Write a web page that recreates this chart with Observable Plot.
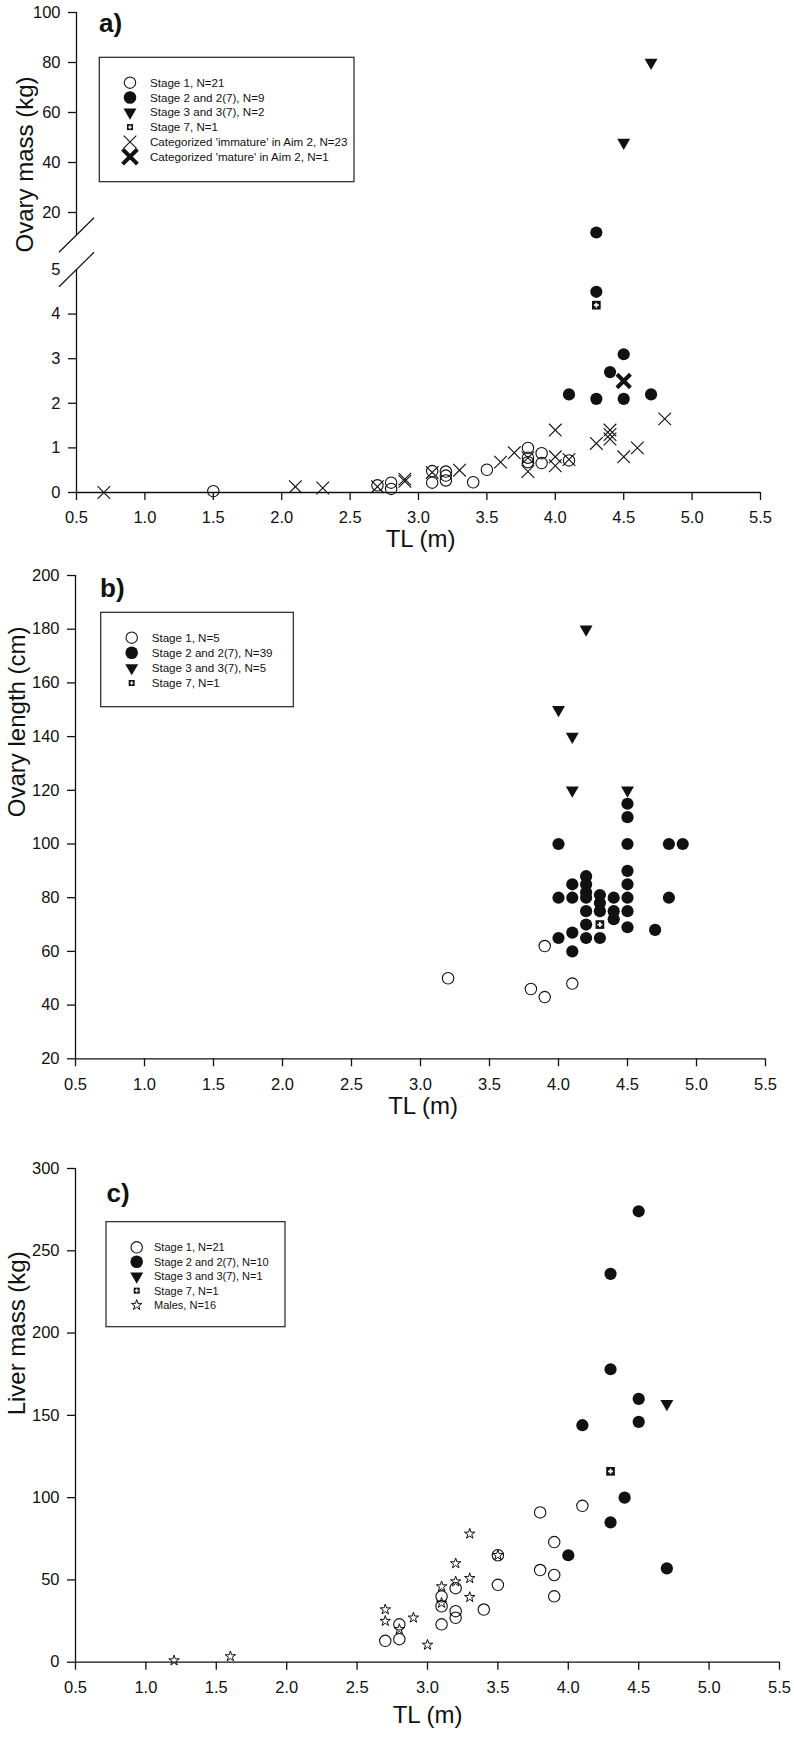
<!DOCTYPE html>
<html>
<head>
<meta charset="utf-8">
<script src="https://cdn.jsdelivr.net/npm/d3@7"></script>
<script src="https://cdn.jsdelivr.net/npm/@observablehq/plot@0.6"></script>
<style>
  html, body { margin: 0; padding: 0; background: #fff; }
  #wrap { position: relative; width: 794px; height: 1740px; overflow: hidden; background: #fff; }
  #wrap > svg { display: block; }
  #overlay { position: absolute; left: 0; top: 0; pointer-events: none; }
</style>
</head>
<body>
<div id="wrap"></div>
<script>
// ---------------- DATA ----------------
// shared x ticks (TL, m)
const xTicks = [0.5, 1.0, 1.5, 2.0, 2.5, 3.0, 3.5, 4.0, 4.5, 5.0, 5.5];

// Panel a) Ovary mass (kg) vs TL (m)
const a_stage1_tl   = [1.5, 2.7, 2.8, 2.8, 3.1, 3.1, 3.2, 3.2, 3.2, 3.4, 3.5, 3.8, 3.8, 3.8, 3.9, 3.9, 4.1];
const a_stage1_mass = [0.03, 0.16, 0.22, 0.08, 0.48, 0.22, 0.47, 0.38, 0.27, 0.23, 0.51, 1.0, 0.78, 0.68, 0.88, 0.66, 0.72];
const a_stage2_tl   = [4.3, 4.3, 4.5, 4.4, 4.1, 4.3, 4.5, 4.7];
const a_stage2_mass = [12, 4.5, 3.1, 2.7, 2.2, 2.1, 2.1, 2.2];
const a_stage3_tl   = [4.7, 4.5];
const a_stage3_mass = [80, 48];
const a_stage7_tl   = [4.3];
const a_stage7_mass = [4.2];
const a_immature_tl   = [0.7, 2.1, 2.3, 2.7, 2.9, 2.9, 3.1, 3.3, 3.6, 3.7, 3.8, 3.8, 4.0, 4.0, 4.0, 4.1, 4.3, 4.4, 4.4, 4.4, 4.5, 4.6, 4.8];
const a_immature_mass = [0.0, 0.13, 0.1, 0.13, 0.3, 0.25, 0.45, 0.5, 0.68, 0.89, 0.78, 0.47, 1.4, 0.8, 0.6, 0.74, 1.1, 1.4, 1.3, 1.2, 0.8, 1.0, 1.65];
const a_mature_tl   = [4.5];
const a_mature_mass = [2.5];
const a_yTicks = [0, 1, 2, 3, 4, 20, 40, 60, 80, 100];
const a_yTicksNoMark = [5];
const a_yBreaks = [5, 11];          // axis break between 5 and 11 kg
const a_lowerMax = 5, a_upperMin = 11, a_upperMax = 100;
const a_legendLabels = ["Stage 1, N=21", "Stage 2 and 2(7), N=9", "Stage 3 and 3(7), N=2", "Stage 7, N=1",
  "Categorized 'immature' in Aim 2, N=23", "Categorized 'mature' in Aim 2, N=1"];

// Panel b) Ovary length (cm) vs TL (m)
const b_stage1_tl  = [3.2, 3.8, 3.9, 3.9, 4.1];
const b_stage1_len = [50, 46, 43, 62, 48];
const b_stage2_tl  = [4.0, 4.0, 4.0, 4.1, 4.1, 4.1, 4.1, 4.2, 4.2, 4.2, 4.2, 4.2, 4.2, 4.2,
                      4.3, 4.3, 4.3, 4.3, 4.4, 4.4, 4.4, 4.5, 4.5, 4.5, 4.5, 4.5, 4.5, 4.5, 4.5,
                      4.7, 4.8, 4.8, 4.9];
const b_stage2_len = [100, 80, 65, 85, 80, 67, 60, 88, 85, 82, 80, 75, 70, 65,
                      81, 78, 75, 65, 80, 75, 72, 115, 110, 100, 90, 85, 80, 75, 69,
                      68, 100, 80, 100];
const b_stage3_tl  = [4.2, 4.0, 4.1, 4.1, 4.5];
const b_stage3_len = [180, 150, 140, 120, 120];
const b_stage7_tl  = [4.3];
const b_stage7_len = [70];
const b_yTicks = [20, 40, 60, 80, 100, 120, 140, 160, 180, 200];
const b_legendLabels = ["Stage 1, N=5", "Stage 2 and 2(7), N=39", "Stage 3 and 3(7), N=5", "Stage 7, N=1"];

// Panel c) Liver mass (kg) vs TL (m)
const c_stage1_tl    = [2.7, 2.8, 2.8, 3.1, 3.1, 3.1, 3.2, 3.2, 3.2, 3.4, 3.5, 3.5, 3.8, 3.8, 3.9, 3.9, 3.9, 4.1];
const c_stage1_liver = [13, 23, 14, 40, 34, 23, 45, 31, 27, 32, 47, 65, 91, 56, 73, 53, 40, 95];
const c_stage2_tl    = [4.5, 4.3, 4.3, 4.5, 4.5, 4.1, 4.4, 4.3, 4.0, 4.7];
const c_stage2_liver = [274, 236, 178, 160, 146, 144, 100, 85, 65, 57];
const c_stage3_tl    = [4.7];
const c_stage3_liver = [157];
const c_stage7_tl    = [4.3];
const c_stage7_liver = [116];
const c_males_tl     = [1.2, 1.6, 2.7, 2.7, 2.8, 2.9, 3.0, 3.1, 3.1, 3.2, 3.2, 3.3, 3.3, 3.3, 3.5];
const c_males_liver  = [1, 3.5, 32, 25, 20, 27, 10.5, 46, 36, 60, 49, 78, 51, 39.5, 65];
const c_yTicks = [0, 50, 100, 150, 200, 250, 300];
const c_legendLabels = ["Stage 1, N=21", "Stage 2 and 2(7), N=10", "Stage 3 and 3(7), N=1", "Stage 7, N=1", "Males, N=16"];

// ---------------- RENDERING ----------------
const INK = "#111";
const FONT = '"Liberation Sans", Arial, Helvetica, sans-serif';
const fmt1 = d3.format(".1f");
const rows = (xs, ys) => xs.map((x, i) => ({tl: x, v: ys[i]}));

// broken-axis transform for panel a: lower part (0–5 kg) is stretched, upper part (11–100 kg) compressed
const LOWER_K = 44.6, UPPER_K = 2.5, GAP = 34.5;
const brokenY = v => v <= a_lowerMax ? v * LOWER_K
  : v >= a_upperMin ? a_lowerMax * LOWER_K + GAP + (v - a_upperMin) * UPPER_K
  : a_lowerMax * LOWER_K + GAP * (v - a_lowerMax) / (a_upperMin - a_lowerMax);
const brokenTop = brokenY(a_upperMax);

const R = {open: 5.7, filled: 6.1, tri: 4.8, square: 4.9, plus: 2.1, times: 5.8, bigX: 6.2, star: 3.3};

const SYM = {
  open:   d => [Plot.dot(d, {x: "tl", y: "v", r: R.open, stroke: INK, strokeWidth: 1.1, fill: "none"})],
  filled: d => [Plot.dot(d, {x: "tl", y: "v", r: R.filled, fill: INK})],
  tri:    d => [Plot.dot(d, {x: "tl", y: "v", r: R.tri, symbol: "triangle", rotate: 180, fill: INK})],
  square: d => [Plot.dot(d, {x: "tl", y: "v", r: R.square, symbol: "square", fill: INK}),
                Plot.dot(d, {x: "tl", y: "v", r: R.plus, symbol: "cross", fill: "white"})],
  times:  d => [Plot.dot(d, {x: "tl", y: "v", r: R.times, symbol: "times", stroke: INK, strokeWidth: 1.1})],
  bigX:   d => [Plot.dot(d, {x: "tl", y: "v", r: R.bigX, symbol: "times", stroke: INK, strokeWidth: 4})],
  star:   d => [Plot.dot(d, {x: "tl", y: "v", r: R.star, symbol: "star", stroke: INK, strokeWidth: 1, fill: "none"})]
};

const slashSymbol = { draw(ctx) { ctx.moveTo(-17.5, 17.2); ctx.lineTo(17.5, -17.2); } };

function frame(cfg) {
  const m = [];
  m.push(Plot.ruleY([cfg.y0], {x1: 0.5, x2: 5.5, stroke: INK, strokeWidth: 1.3}));
  for (const [lo, hi] of cfg.ySegments) m.push(Plot.ruleX([0.5], {y1: lo, y2: hi, stroke: INK, strokeWidth: 1.3}));
  m.push(Plot.axisX(xTicks, {tickSize: 8, tickPadding: 11, tickFormat: fmt1, label: null, color: INK, fontSize: 16.5, strokeWidth: 1.3}));
  m.push(Plot.axisY(cfg.yTicks, {tickSize: 8, tickPadding: 8, tickFormat: d => String(d), label: null, color: INK, fontSize: 16.5, strokeWidth: 1.3}));
  if (cfg.yNoMark) m.push(Plot.axisY(cfg.yNoMark, {tickSize: 0, tickPadding: 16, tickFormat: d => String(d), label: null, color: INK, fontSize: 16.5}));
  m.push(Plot.text([cfg.xTitle], {text: d => d, frameAnchor: "bottom", dx: cfg.xdx, dy: cfg.xdy, fontSize: 24, fill: INK}));
  m.push(Plot.text([cfg.yTitle], {text: d => d, frameAnchor: "left", rotate: -90, dx: cfg.ydx, fontSize: 24, fill: INK}));
  return m;
}

const style = {fontFamily: FONT, fontSize: "16.5px", color: INK, background: "white", overflow: "visible"};

// Panel a
const plotA = Plot.plot({
  width: 794, height: 560,
  marginLeft: 76, marginRight: 34, marginTop: 12, marginBottom: 68,
  style,
  x: {domain: [0.5, 5.5], range: [76, 760]},
  y: {type: "linear", transform: brokenY, domain: [0, brokenTop], range: [492, 12]},
  marks: [
    ...frame({y0: 0, ySegments: [[0, a_lowerMax], [a_upperMin, a_upperMax]], yTicks: a_yTicks, yNoMark: a_yTicksNoMark,
              xTitle: "TL (m)", yTitle: "Ovary mass (kg)", xdx: 2, xdy: 54, ydx: -50.7}),
    Plot.dot(a_yBreaks, {x: () => 0.5, y: d => d, symbol: slashSymbol, stroke: INK, strokeWidth: 1.2, fill: "none"}),
    ...SYM.open(rows(a_stage1_tl, a_stage1_mass)),
    ...SYM.times(rows(a_immature_tl, a_immature_mass)),
    ...SYM.filled(rows(a_stage2_tl, a_stage2_mass)),
    ...SYM.tri(rows(a_stage3_tl, a_stage3_mass)),
    ...SYM.square(rows(a_stage7_tl, a_stage7_mass)),
    ...SYM.bigX(rows(a_mature_tl, a_mature_mass))
  ]
});

// Panel b
const plotB = Plot.plot({
  width: 794, height: 570,
  marginLeft: 75, marginRight: 29, marginTop: 15, marginBottom: 71.7,
  style,
  x: {domain: [0.5, 5.5], range: [75, 765]},
  y: {domain: [20, 200], range: [498.3, 15]},
  marks: [
    ...frame({y0: 20, ySegments: [[20, 200]], yTicks: b_yTicks,
              xTitle: "TL (m)", yTitle: "Ovary length (cm)", xdx: 2.5, xdy: 55, ydx: -57.7}),
    ...SYM.open(rows(b_stage1_tl, b_stage1_len)),
    ...SYM.filled(rows(b_stage2_tl, b_stage2_len)),
    ...SYM.tri(rows(b_stage3_tl, b_stage3_len)),
    ...SYM.square(rows(b_stage7_tl, b_stage7_len))
  ]
});

// Panel c
const plotC = Plot.plot({
  width: 794, height: 610,
  marginLeft: 75, marginRight: 15, marginTop: 38, marginBottom: 78.3,
  style,
  x: {domain: [0.5, 5.5], range: [75, 779]},
  y: {domain: [0, 300], range: [531.7, 38]},
  marks: [
    ...frame({y0: 0, ySegments: [[0, 300]], yTicks: c_yTicks,
              xTitle: "TL (m)", yTitle: "Liver mass (kg)", xdx: 0, xdy: 60.5, ydx: -57.7}),
    ...SYM.open(rows(c_stage1_tl, c_stage1_liver)),
    ...SYM.star(rows(c_males_tl, c_males_liver)),
    ...SYM.filled(rows(c_stage2_tl, c_stage2_liver)),
    ...SYM.tri(rows(c_stage3_tl, c_stage3_liver)),
    ...SYM.square(rows(c_stage7_tl, c_stage7_liver))
  ]
});

const wrap = document.getElementById("wrap");
wrap.append(plotA, plotB, plotC);

// ---------------- TITLES & LEGENDS (overlay) ----------------
const ov = d3.create("svg").attr("id", "overlay").attr("width", 794).attr("height", 1740)
  .style("font-family", FONT);

const panelTitles = [
  {t: "a)", x: 99, y: 32},
  {t: "b)", x: 100, y: 597},
  {t: "c)", x: 106.5, y: 1202}
];
for (const p of panelTitles) {
  ov.append("text").attr("x", p.x).attr("y", p.y).attr("font-size", 26).attr("font-weight", "bold")
    .attr("fill", INK).text(p.t);
}

function legendSymbol(g, type, cx, cy) {
  const at = `translate(${cx},${cy})`;
  const sym = (s, r) => d3.symbol(s, Math.PI * r * r)();
  if (type === "open") g.append("circle").attr("cx", cx).attr("cy", cy).attr("r", 5.7).attr("fill", "none").attr("stroke", INK).attr("stroke-width", 1.1);
  if (type === "filled") g.append("circle").attr("cx", cx).attr("cy", cy).attr("r", 6.3).attr("fill", INK);
  if (type === "tri") g.append("path").attr("d", sym(d3.symbolTriangle, 4.8)).attr("transform", at + " rotate(180)").attr("fill", INK);
  if (type === "square") {
    g.append("path").attr("d", sym(d3.symbolSquare, 3.4)).attr("transform", at).attr("fill", INK);
    g.append("path").attr("d", sym(d3.symbolCross, 1.5)).attr("transform", at).attr("fill", "white");
  }
  if (type === "times") g.append("path").attr("d", sym(d3.symbolTimes, 5.8)).attr("transform", at).attr("fill", "none").attr("stroke", INK).attr("stroke-width", 1.1);
  if (type === "bigX") g.append("path").attr("d", sym(d3.symbolTimes, 6.8)).attr("transform", at).attr("fill", "none").attr("stroke", INK).attr("stroke-width", 4);
  if (type === "star") g.append("path").attr("d", sym(d3.symbolStar, 3.3)).attr("transform", at).attr("fill", "none").attr("stroke", INK).attr("stroke-width", 1);
}

function legend(box, types, labels) {
  const g = ov.append("g");
  g.append("rect").attr("x", box.x).attr("y", box.y).attr("width", box.w).attr("height", box.h)
    .attr("fill", "white").attr("stroke", "#222").attr("stroke-width", 1.2);
  labels.forEach((lab, i) => {
    const cy = box.row0 + i * box.step;
    legendSymbol(g, types[i], box.sx, cy);
    g.append("text").attr("x", box.tx).attr("y", cy).attr("dy", "0.36em").attr("font-size", box.fs)
      .attr("fill", INK).text(lab);
  });
}

legend({x: 99.3, y: 57.3, w: 254.7, h: 124.4, row0: 82.7, step: 14.8, sx: 130, tx: 150, fs: 11.6},
  ["open", "filled", "tri", "square", "times", "bigX"], a_legendLabels);
legend({x: 100.7, y: 612.3, w: 192.6, h: 94.4, row0: 637.7, step: 15.1, sx: 131.7, tx: 151.7, fs: 11.6},
  ["open", "filled", "tri", "square"], b_legendLabels);
legend({x: 106, y: 1221.7, w: 179, h: 105, row0: 1247.3, step: 14.45, sx: 136.7, tx: 154, fs: 11},
  ["open", "filled", "tri", "square", "star"], c_legendLabels);

wrap.append(ov.node());
</script>
</body>
</html>
